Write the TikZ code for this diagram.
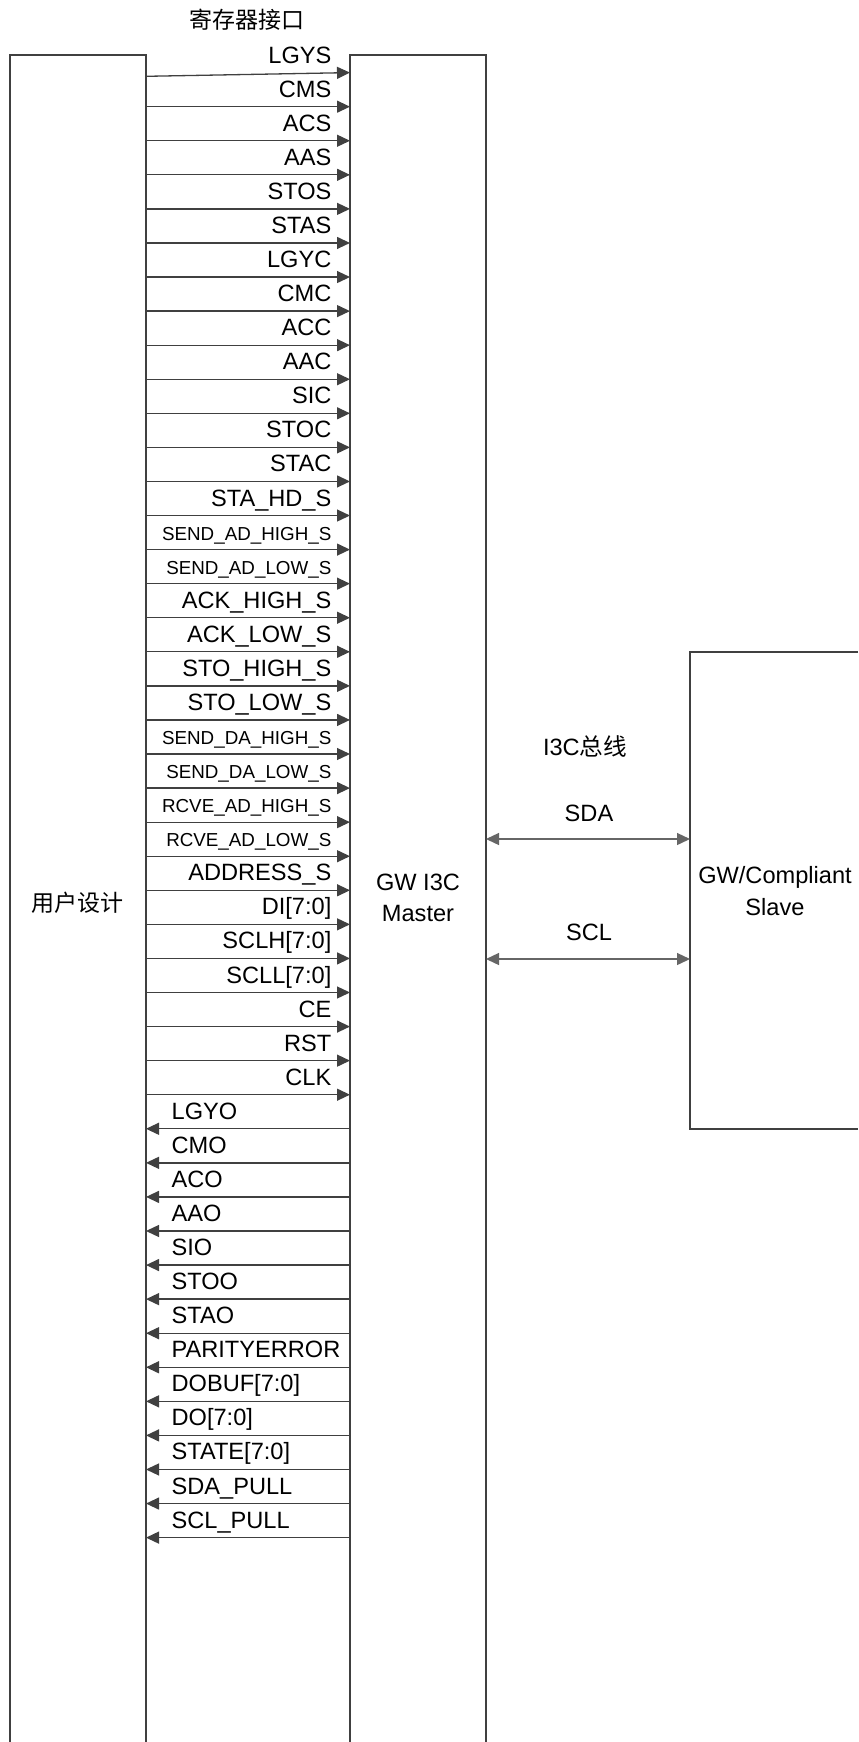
\documentclass[tikz,border=0pt]{standalone}
\usepackage{fontspec}
\setmainfont{Liberation Sans}
\newfontfamily\cjk{Noto Sans CJK SC}
\usetikzlibrary{arrows.meta}

\begin{document}
\begin{tikzpicture}[x=0.5pt, y=-0.5pt, line width=0.65pt,
  >={Triangle[length=6.5pt,width=6pt]},
  box/.style={draw=black!75},
  wire/.style={draw=black!75, ->},
  bus/.style={draw=black!60, <->},
  sig/.style={font=\fontsize{11.8}{14}\selectfont, inner sep=0pt},
  sigsmall/.style={font=\fontsize{9.4}{11}\selectfont, inner sep=0pt},
  cjklabel/.style={font=\cjk\fontsize{11.5}{14}\selectfont, inner sep=0pt}]
  \useasboundingbox (0,0) rectangle (858,1742);
  % blocks: user design and master run off the bottom, slave runs off the right
  \draw[box] (10,1742) -- (10,55) -- (146,55) -- (146,1742);
  \draw[box] (350,1742) -- (350,55) -- (486,55) -- (486,1742);
  \draw[box] (858,652) -- (690,652) -- (690,1129) -- (858,1129);
  \node[cjklabel] (top) at (247,20) {寄存器接口};
  \node[cjklabel] (user) at (78,903) {用户设计};
  \node[sig, align=center] (master) at (418,898) {GW I3C\\[1.6pt]Master};
  \node[sig, align=center] (slave) at (775,891) {GW/Compliant\\[2pt]Slave};
  % register interface: inputs to the master
  \coordinate (u0) at (146,76.3);
  \coordinate (m0) at (350,72.6);
  \draw[wire] (u0) -- (m0);
  \node[sig, anchor=base east] (lbl0) at (332,63.1) {LGYS};
  \foreach \name/\sty [count=\k from 1] in {CMS/sig, ACS/sig, AAS/sig, STOS/sig,
      STAS/sig, LGYC/sig, CMC/sig, ACC/sig, AAC/sig, SIC/sig, STOC/sig, STAC/sig,
      STA\_HD\_S/sig, SEND\_AD\_HIGH\_S/sigsmall, SEND\_AD\_LOW\_S/sigsmall,
      ACK\_HIGH\_S/sig, ACK\_LOW\_S/sig, STO\_HIGH\_S/sig, STO\_LOW\_S/sig,
      SEND\_DA\_HIGH\_S/sigsmall, SEND\_DA\_LOW\_S/sigsmall,
      RCVE\_AD\_HIGH\_S/sigsmall, RCVE\_AD\_LOW\_S/sigsmall, ADDRESS\_S/sig,
      {DI[7:0]}/sig, {SCLH[7:0]}/sig, {SCLL[7:0]}/sig, CE/sig, RST/sig, CLK/sig} {
    \pgfmathsetmacro\yy{72.6+34.07*\k}
    \coordinate (u\k) at (146,\yy);
    \coordinate (m\k) at (350,\yy);
    \draw[wire] (u\k) -- (m\k);
    \node[\sty, anchor=base east] (lbl\k) at (332,\yy-9.5) {\name};
  }
  % outputs back to the user design
  \foreach \name [count=\k from 31] in {LGYO, CMO, ACO, AAO, SIO, STOO, STAO,
      PARITYERROR, {DOBUF[7:0]}, {DO[7:0]}, {STATE[7:0]}, SDA\_PULL, SCL\_PULL} {
    \pgfmathsetmacro\yy{72.6+34.07*\k}
    \coordinate (u\k) at (146,\yy);
    \coordinate (m\k) at (350,\yy);
    \draw[wire] (m\k) -- (u\k);
    \node[sig, anchor=base west] (lbl\k) at (171,\yy-9.5) {\name};
  }
  % I3C bus
  \node[sig] (buslbl) at (585,746) {I3C{\cjk 总线}};
  \coordinate (sdaM) at (486,839);
  \coordinate (sdaS) at (690,839);
  \coordinate (sclM) at (486,959);
  \coordinate (sclS) at (690,959);
  \draw[bus] (sdaM) -- (sdaS);
  \draw[bus] (sclM) -- (sclS);
  \node[sig] (sda) at (589,813) {SDA};
  \node[sig] (scl) at (589,932) {SCL};
\end{tikzpicture}
\end{document}
